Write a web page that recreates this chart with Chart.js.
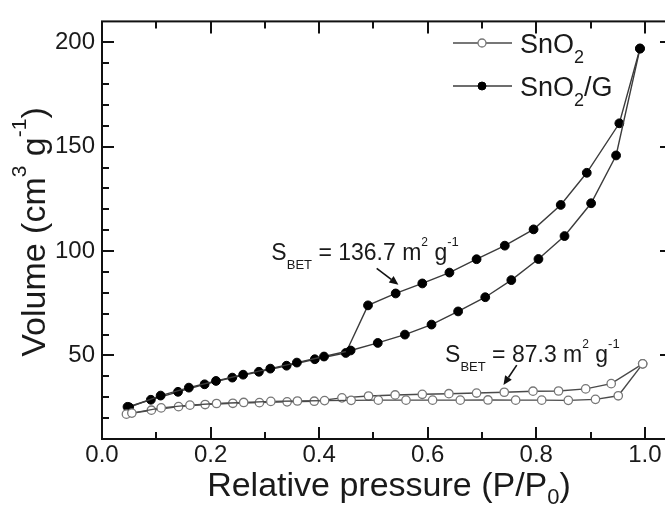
<!DOCTYPE html>
<html><head><meta charset="utf-8">
<script src="https://cdn.jsdelivr.net/npm/chart.js@4.4.0/dist/chart.umd.min.js"></script>
<style>
html,body{margin:0;padding:0;background:#fff;overflow:hidden;}
#wrap{width:680px;height:507px;}
</style></head><body>
<div id="wrap"><canvas id="c" width="680" height="507"></canvas></div>
<script>
// ---- data ----
const seriesNames = ['SnO2', 'SnO2/G'];
const xTickValues = [0, 0.2, 0.4, 0.6, 0.8, 1.0];
const yTickValues = [50, 100, 150, 200];

// SnO2/G adsorption (lower branch)
const gAdsX = [0.050,0.108,0.160,0.210,0.260,0.310,0.359,0.409,0.458,0.508,0.558,0.607,0.656,0.706,0.754,0.804,0.852,0.901,0.947,0.991];
const gAdsY = [25.2,30.8,34.6,37.8,40.8,43.7,46.6,49.5,52.4,56.0,60.0,64.8,71.1,77.9,86.1,96.2,107.2,122.9,145.8,197.0];
// SnO2/G desorption (upper branch)
const gDesX = [0.991,0.953,0.893,0.845,0.795,0.742,0.690,0.640,0.590,0.541,0.490,0.449,0.392,0.340,0.289,0.240,0.189,0.140,0.090,0.047];
const gDesY = [197.0,161.2,137.5,122.1,110.4,102.6,96.1,89.7,84.5,79.7,74.0,51.2,48.2,45.1,42.2,39.4,36.2,32.6,28.8,25.4];
// SnO2 adsorption
const sAdsX = [0.055,0.109,0.162,0.211,0.261,0.311,0.360,0.410,0.459,0.509,0.560,0.609,0.660,0.711,0.762,0.810,0.859,0.909,0.951,0.996];
const sAdsY = [22.4,24.9,26.2,27.0,27.5,28.0,28.2,28.4,28.5,28.6,28.6,28.6,28.6,28.7,28.6,28.6,28.5,29.0,30.7,46.0];
// SnO2 desorption
const sDesX = [0.996,0.938,0.891,0.841,0.794,0.741,0.690,0.639,0.590,0.540,0.491,0.442,0.391,0.341,0.290,0.241,0.190,0.141,0.091,0.045];
const sDesY = [46.0,36.5,34.0,33.0,32.9,32.4,32.0,31.7,31.4,31.1,30.6,29.7,28.1,27.8,27.4,27.1,26.5,25.5,23.8,21.9];

// annotations (data coordinates)
const annotations = [
  {label: '136.7', x: 0.312, y: 95.9, tail: [0.506, 91.7], tip: [0.546, 83.9]},
  {label: '87.3',  x: 0.632, y: 46.9, tail: [0.764, 45.4], tip: [0.7395, 35.9]}
];

const FONT = '"Liberation Sans", Arial, Helvetica, sans-serif';
const TXT = '#1a1a1a';
const pts = (xs, ys) => xs.map((x, i) => ({x, y: ys[i]}));

const openStyle = {showLine:true, borderColor:'#4a4a4a', borderWidth:1.4, pointRadius:4.2, pointBackgroundColor:'#fff', pointBorderColor:'#777', pointBorderWidth:1.3, pointHoverRadius:4.2};
const filledStyle = {showLine:true, borderColor:'#3c3c3c', borderWidth:1.4, pointRadius:4.4, pointBackgroundColor:'#000', pointBorderColor:'#000', pointBorderWidth:1, pointHoverRadius:4.4};

function rich(ctx, x, y, parts, align) {
  let w = 0;
  parts.forEach(p => { ctx.font = p[1] + 'px ' + FONT; w += ctx.measureText(p[0]).width; });
  let cx = align === 'center' ? x - w / 2 : x;
  parts.forEach(p => {
    ctx.font = p[1] + 'px ' + FONT;
    ctx.fillText(p[0], cx, y + p[2]);
    cx += ctx.measureText(p[0]).width;
  });
}

function arrow(ctx, x1, y1, x2, y2) {
  ctx.save();
  ctx.strokeStyle = '#111'; ctx.fillStyle = '#111'; ctx.lineWidth = 1.6;
  const a = Math.atan2(y2 - y1, x2 - x1), L = 9, W = 4;
  const bx = x2 - L * Math.cos(a), by = y2 - L * Math.sin(a);
  ctx.beginPath(); ctx.moveTo(x1, y1); ctx.lineTo(bx, by); ctx.stroke();
  ctx.beginPath();
  ctx.moveTo(x2, y2);
  ctx.lineTo(bx + W * Math.sin(a), by - W * Math.cos(a));
  ctx.lineTo(bx - W * Math.sin(a), by + W * Math.cos(a));
  ctx.closePath(); ctx.fill();
  ctx.restore();
}

const framePlugin = {
  id: 'frame',
  afterDraw(chart) {
    const ctx = chart.ctx, a = chart.chartArea, xs = chart.scales.x, ys = chart.scales.y;
    ctx.save();
    ctx.strokeStyle = '#111'; ctx.lineWidth = 2;
    ctx.strokeRect(a.left, a.top, a.right - a.left, a.bottom - a.top);
    ctx.beginPath();
    // x ticks every 0.1, major every 0.2
    for (let i = 1; i <= 10; i++) {
      const v = i / 10, px = Math.round(xs.getPixelForValue(v));
      const len = (i % 2 === 0) ? 12 : 7;
      ctx.moveTo(px, a.bottom); ctx.lineTo(px, a.bottom - len);
      ctx.moveTo(px, a.top); ctx.lineTo(px, a.top + len);
    }
    // y ticks every 10, major every 50
    for (let v = 20; v < 210; v += 10) {
      const py = Math.round(ys.getPixelForValue(v));
      const len = (v % 50 === 0) ? 12 : 7;
      ctx.moveTo(a.left, py); ctx.lineTo(a.left + len, py);
      ctx.moveTo(a.right, py); ctx.lineTo(a.right - len, py);
    }
    ctx.stroke();

    ctx.fillStyle = TXT; ctx.textBaseline = 'alphabetic'; ctx.textAlign = 'left';
    // x title
    rich(ctx, 389, 496, [['Relative pressure (P/P', 34, 0], ['0', 22, 8], [')', 34, 0]], 'center');
    // y title
    ctx.save();
    ctx.translate(45, 232); ctx.rotate(-Math.PI / 2);
    rich(ctx, 0, 0, [['Volume (cm', 34, 0], ['3', 21, -19], [' g', 34, 0], ['-1', 21, -19], [')', 34, 0]], 'center');
    ctx.restore();

    // legend
    const leg = [
      {name: ['SnO', '2', ''], y: 43, ds: chart.data.datasets[0]},
      {name: ['SnO', '2', '/G'], y: 86, ds: chart.data.datasets[2]}
    ];
    leg.forEach(l => {
      ctx.strokeStyle = l.ds.borderColor; ctx.lineWidth = 1.4;
      ctx.beginPath(); ctx.moveTo(453, l.y); ctx.lineTo(512, l.y); ctx.stroke();
      ctx.beginPath(); ctx.arc(482, l.y, 4, 0, Math.PI * 2);
      ctx.fillStyle = l.ds.pointBackgroundColor; ctx.fill();
      ctx.strokeStyle = l.ds.pointBorderColor; ctx.lineWidth = l.ds.pointBorderWidth; ctx.stroke();
      ctx.fillStyle = TXT;
      rich(ctx, 520, l.y + 10, [[l.name[0], 27, 0], [l.name[1], 18, 10], [l.name[2], 27, 0]], 'left');
    });

    // annotations
    annotations.forEach(an => {
      const x = xs.getPixelForValue(an.x), y = ys.getPixelForValue(an.y);
      ctx.fillStyle = TXT;
      rich(ctx, x, y, [['S', 23, 0], ['BET', 13, 9], [' = ' + an.label + ' m', 23, 0], ['2', 12, -14], [' g', 23, 0], ['-1', 13, -14]], 'left');
      arrow(ctx, xs.getPixelForValue(an.tail[0]), ys.getPixelForValue(an.tail[1]),
                 xs.getPixelForValue(an.tip[0]), ys.getPixelForValue(an.tip[1]));
    });
    ctx.restore();
  }
};

new Chart(document.getElementById('c'), {
  type: 'scatter',
  data: {
    datasets: [
      Object.assign({label: seriesNames[0] + ' adsorption', data: pts(sAdsX, sAdsY)}, openStyle),
      Object.assign({label: seriesNames[0] + ' desorption', data: pts(sDesX, sDesY)}, openStyle),
      Object.assign({label: seriesNames[1] + ' adsorption', data: pts(gAdsX, gAdsY)}, filledStyle),
      Object.assign({label: seriesNames[1] + ' desorption', data: pts(gDesX, gDesY)}, filledStyle)
    ]
  },
  options: {
    responsive: false, animation: false, devicePixelRatio: 1,
    layout: {padding: {top: 16, right: 8, left: 0, bottom: 0}},
    plugins: {legend: {display: false}, tooltip: {enabled: false}},
    scales: {
      x: {
        type: 'linear', min: 0, max: 1.05,
        grid: {display: false, drawTicks: false}, border: {display: false},
        afterBuildTicks: s => { s.ticks = xTickValues.map(v => ({value: v})); },
        afterFit: s => { s.height = 68; },
        ticks: {padding: 2, color: TXT, font: {family: FONT, size: 24}, maxRotation: 0, autoSkip: false,
                callback: v => Number(v).toFixed(1)}
      },
      y: {
        type: 'linear', min: 10, max: 210,
        grid: {display: false, drawTicks: false}, border: {display: false},
        afterBuildTicks: s => { s.ticks = yTickValues.map(v => ({value: v})); },
        afterFit: s => { s.width = 102; },
        ticks: {padding: 7, color: TXT, font: {family: FONT, size: 24}, autoSkip: false,
                callback: v => String(v)}
      }
    }
  },
  plugins: [framePlugin]
});
</script>
</body></html>
